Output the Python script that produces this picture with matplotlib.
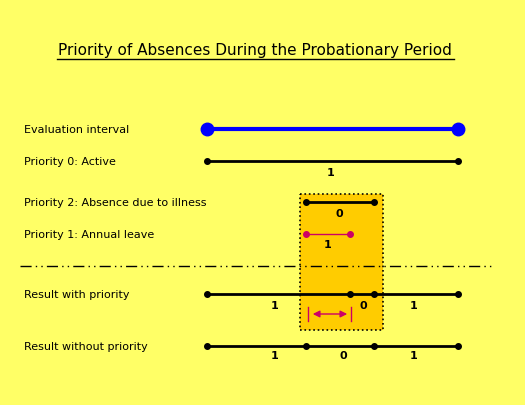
import matplotlib.pyplot as plt
from matplotlib.patches import Rectangle

bg = '#FFFF66'
# row labels and y positions (pixels)
rows = ['Evaluation interval', 'Priority 0: Active', 'Priority 2: Absence due to illness',
        'Priority 1: Annual leave', 'Result with priority', 'Result without priority']
row_y = [130, 162, 203, 235, 295, 347]
# segments per row: (x points), values under each segment and their x
seg_x = [[207, 458], [207, 458], [306, 374], [306, 350], [207, 350, 374, 458], [207, 306, 374, 458]]
seg_vals = [[], ['1'], ['0'], ['1'], ['1', '0', '1'], ['1', '0', '1']]
val_x = [[], [331], [339], [328], [275, 363, 414], [275, 343, 414]]
val_dy = [0, 11, 11, 10, 11, 9]

fig = plt.figure(figsize=(5.25, 4.06), dpi=100)
fig.patch.set_facecolor(bg)
ax = fig.add_axes([0, 0, 1, 1])
ax.set_facecolor(bg)
ax.set_xlim(0, 525)
ax.set_ylim(406, 0)
ax.axis('off')

ax.add_patch(Rectangle((300, 195), 83, 136, facecolor='#FFCC00', edgecolor='black',
                       linestyle=':', linewidth=1.2, zorder=1))

ax.text(255, 50, 'Priority of Absences During the Probationary Period', ha='center', va='center',
        fontsize=11)
ax.plot([57, 454], [60, 60], color='black', lw=1)

for i, (name, y) in enumerate(zip(rows, row_y)):
    ax.text(24, y, name, va='center', fontsize=8)
    xs = seg_x[i]
    if i == 0:
        ax.plot(xs, [y] * len(xs), color='#0000FF', lw=3, marker='o', ms=9, zorder=3)
    elif i == 3:
        ax.plot(xs, [y] * len(xs), color='#CC0066', lw=1, marker='o', ms=4, zorder=3)
    else:
        ax.plot(xs, [y] * len(xs), color='black', lw=2, marker='o', ms=4, zorder=3)
    for v, xm in zip(seg_vals[i], val_x[i]):
        ax.text(xm, y + val_dy[i], v, ha='center', va='center', fontsize=8, fontweight='bold')

ax.plot([20, 495], [267, 267], color='black', lw=1, linestyle=(0, (8, 3, 1, 3, 1, 3)))

ax.annotate('', xy=(310, 315), xytext=(350, 315),
            arrowprops=dict(arrowstyle='<|-|>', color='#CC0066', lw=1))
ax.plot([308, 308], [308, 322], color='#CC0066', lw=1)
ax.plot([351, 351], [308, 322], color='#CC0066', lw=1)

fig.savefig('out.png', dpi=100, facecolor=bg)
